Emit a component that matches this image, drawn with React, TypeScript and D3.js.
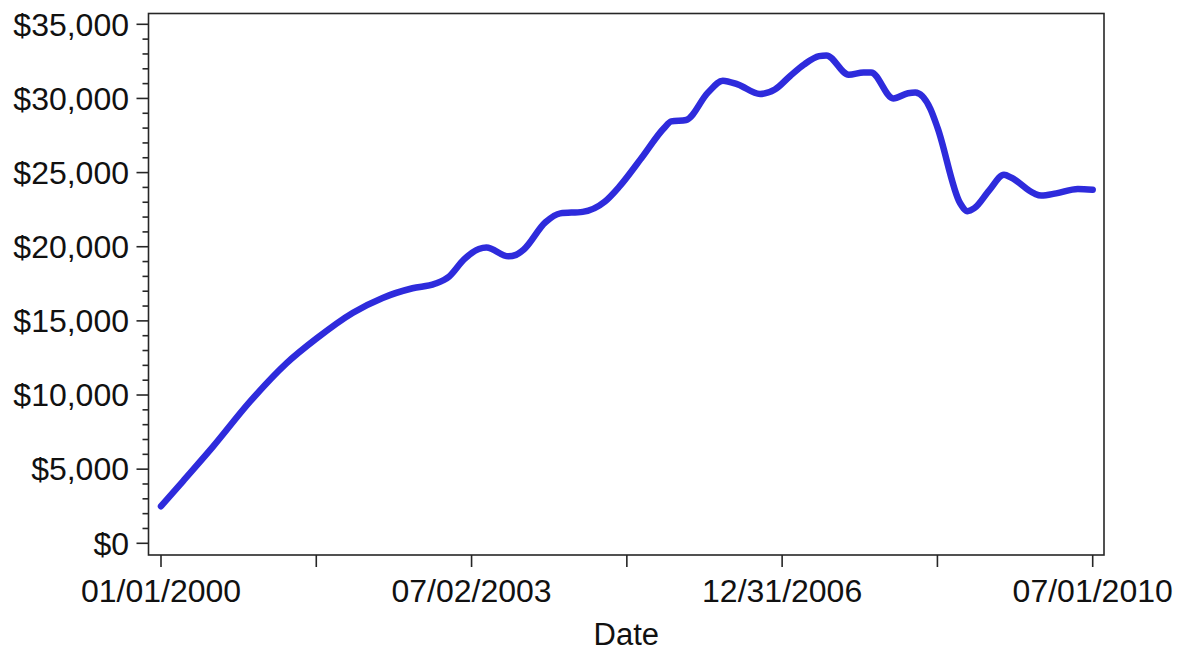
import React from "react";
import * as d3 from "d3";

const months: string[] = [
  "2000-01", "2000-04", "2000-08", "2001-01", "2001-06", "2001-10", "2002-03", "2002-07",
  "2002-11", "2003-02", "2003-04", "2003-06", "2003-08", "2003-09", "2003-12", "2004-01",
  "2004-02", "2004-05", "2004-07", "2004-10", "2005-01", "2005-03", "2005-06", "2005-09",
  "2005-10", "2005-12", "2006-03", "2006-05", "2006-07", "2006-10", "2006-12", "2007-02",
  "2007-04", "2007-06", "2007-07", "2007-10", "2007-12", "2008-01", "2008-04", "2008-06",
  "2008-07", "2008-09", "2008-10", "2009-01", "2009-02", "2009-03", "2009-05", "2009-07",
  "2009-08", "2009-11", "2009-12", "2010-02", "2010-05", "2010-07",
];
const values: number[] = [
  2500, 4200, 6500, 9550, 12150, 13800, 15550, 16550,
  17200, 17500, 18000, 19150, 19850, 19950, 19350, 19450,
  19800, 21650, 22250, 22350, 23050, 24050, 26000, 28000,
  28450, 28550, 30400, 31200, 30950, 30300, 30600, 31500,
  32300, 32850, 32900, 31600, 31750, 31750, 30000, 30350,
  30400, 29300, 28000, 22950, 22400, 22600, 23800, 24850,
  24650, 23600, 23450, 23600, 23900, 23850,
];
const yTickValues: number[] = [0, 5000, 10000, 15000, 20000, 25000, 30000, 35000];
const xTickLabels: string[] = ["01/01/2000", "", "07/02/2003", "", "12/31/2006", "", "07/01/2010"];
const xAxisTitle = "Date";

export default function App() {
  const W = 1179, H = 649;
  const frame = { left: 148.5, top: 13.5, right: 1104, bottom: 555 };
  const parse = d3.utcParse("%Y-%m");
  const start = new Date(Date.UTC(2000, 0, 1));
  const end = new Date(Date.UTC(2010, 6, 1));
  const x = d3.scaleUtc().domain([start, end]).range([161, 1092.7]);
  const y = d3.scaleLinear().domain([0, 35000]).range([543.3, 24.3]);
  const data = months.map((m, i) => ({ d: parse(m) as Date, v: values[i] }));
  const line = d3.line<{ d: Date; v: number }>()
    .x((p) => x(p.d))
    .y((p) => y(p.v))
    .curve(d3.curveMonotoneX);
  const xTicks = xTickLabels.map((lab, i) => ({ d: d3.utcDay.offset(start, 639 * i), lab }));
  const minor = d3.range(0, 35001, 1000).filter((v) => v % 5000 !== 0);
  const fmt = (v: number) => "$" + d3.format(",")(v);
  const font = "'Liberation Sans', Arial, sans-serif";
  const axisColor = "#262626";
  return (
    <svg width={W} height={H} style={{ position: "absolute", left: 0, top: 0, background: "#fff" }}>
      <rect x={frame.left} y={frame.top} width={frame.right - frame.left} height={frame.bottom - frame.top}
        fill="none" stroke={axisColor} strokeWidth={1.6} />
      {yTickValues.map((v) => (
        <g key={"y" + v}>
          <line x1={frame.left - 12} x2={frame.left} y1={y(v)} y2={y(v)} stroke={axisColor} strokeWidth={1.6} />
          <text x={129} y={y(v)} dy="0.35em" textAnchor="end" fontFamily={font} fontSize={32} fill="#111">{fmt(v)}</text>
        </g>
      ))}
      {minor.map((v) => (
        <line key={"m" + v} x1={frame.left - 6} x2={frame.left} y1={y(v)} y2={y(v)} stroke={axisColor} strokeWidth={1.6} />
      ))}
      {xTicks.map((t, i) => (
        <g key={"x" + i}>
          <line x1={x(t.d)} x2={x(t.d)} y1={frame.bottom} y2={frame.bottom + 12} stroke={axisColor} strokeWidth={1.6} />
          {t.lab && (
            <text x={x(t.d)} y={602} textAnchor="middle" fontFamily={font} fontSize={32} fill="#111">{t.lab}</text>
          )}
        </g>
      ))}
      <text x={(frame.left + frame.right) / 2} y={645} textAnchor="middle" fontFamily={font} fontSize={31} fill="#111">{xAxisTitle}</text>
      <path d={line(data) || ""} fill="none" stroke="#2e2bdc" strokeWidth={6.5} strokeLinecap="round" strokeLinejoin="round" />
    </svg>
  );
}
